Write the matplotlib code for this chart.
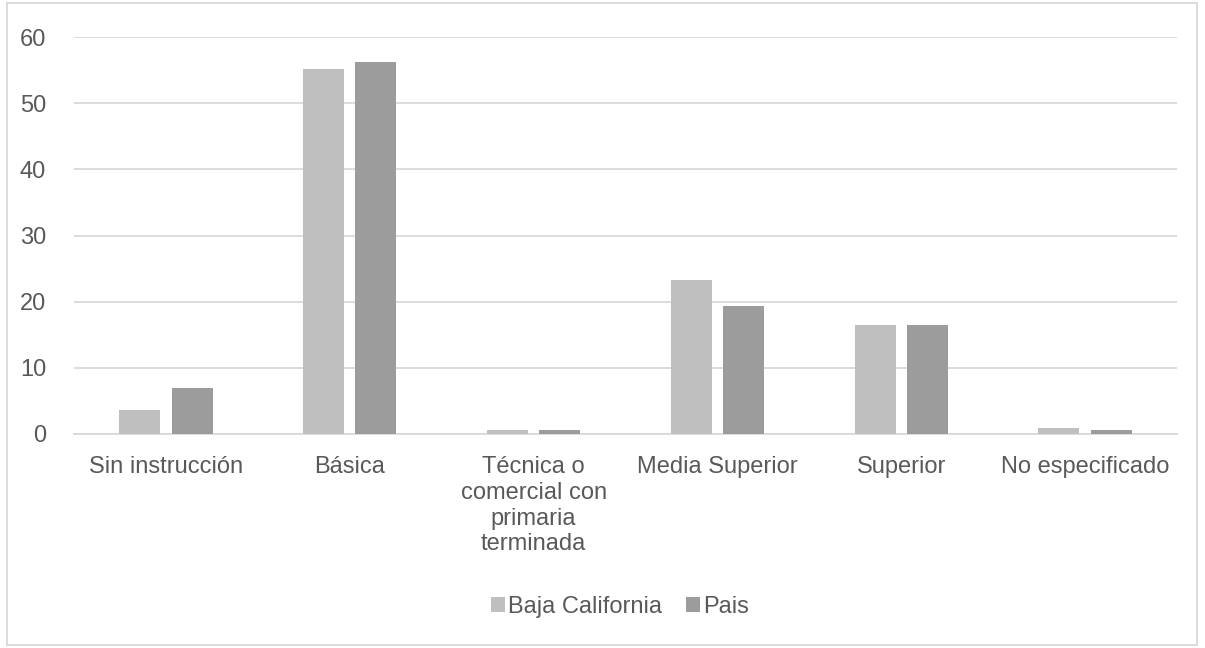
import numpy as np
import matplotlib.pyplot as plt
from matplotlib.patches import Rectangle

categories = ["Sin instrucción", "Básica", "Técnica o\ncomercial con\nprimaria\nterminada",
              "Media Superior", "Superior", "No especificado"]
baja_california = [3.6, 55.2, 0.6, 23.2, 16.5, 0.9]
pais = [6.9, 56.2, 0.6, 19.4, 16.5, 0.6]

plt.rcParams['font.family'] = ['Liberation Sans', 'DejaVu Sans']
text_col = "#595959"

fig = plt.figure(figsize=(12.05, 6.48), dpi=100)
ax = fig.add_axes([74/1205, (648-434)/648, (1177-74)/1205, (434-37)/648])

x = np.arange(len(categories))
w = 0.223
ax.bar(x - 0.142, baja_california, w, color="#BFBFBF", label="Baja California", zorder=3)
ax.bar(x + 0.142, pais, w, color="#9C9C9C", label="Pais", zorder=3)

ax.set_xlim(-0.5, len(categories) - 0.5)
ax.set_ylim(0, 60)
ax.set_yticks(range(0, 61, 10))
ax.yaxis.grid(True, color="#D9D9D9", linewidth=1.3, zorder=0)
ax.set_xticks(x)
ax.set_xticklabels(categories, linespacing=1.22)
ax.tick_params(axis="both", length=0, labelsize=17, colors=text_col)
ax.tick_params(axis="x", pad=16)
ax.tick_params(axis="y", pad=20)
for s in ["top", "right", "left"]:
  ax.spines[s].set_visible(False)
ax.spines["bottom"].set_color("#D9D9D9")
ax.spines["bottom"].set_linewidth(1.3)

leg = fig.legend(loc="center", bbox_to_anchor=(620/1205, 1 - 607/648), ncol=2, frameon=False,
                 fontsize=17, handlelength=0.6, handleheight=0.6, handletextpad=0.15,
                 columnspacing=1.0)
for t in leg.get_texts():
  t.set_color(text_col)

fig.patches.append(Rectangle((7/1205, 3/648), 1190/1205, 642/648, transform=fig.transFigure,
                             fill=False, edgecolor="#D9D9D9", linewidth=1.3))

plt.savefig("out.png", dpi=100)
